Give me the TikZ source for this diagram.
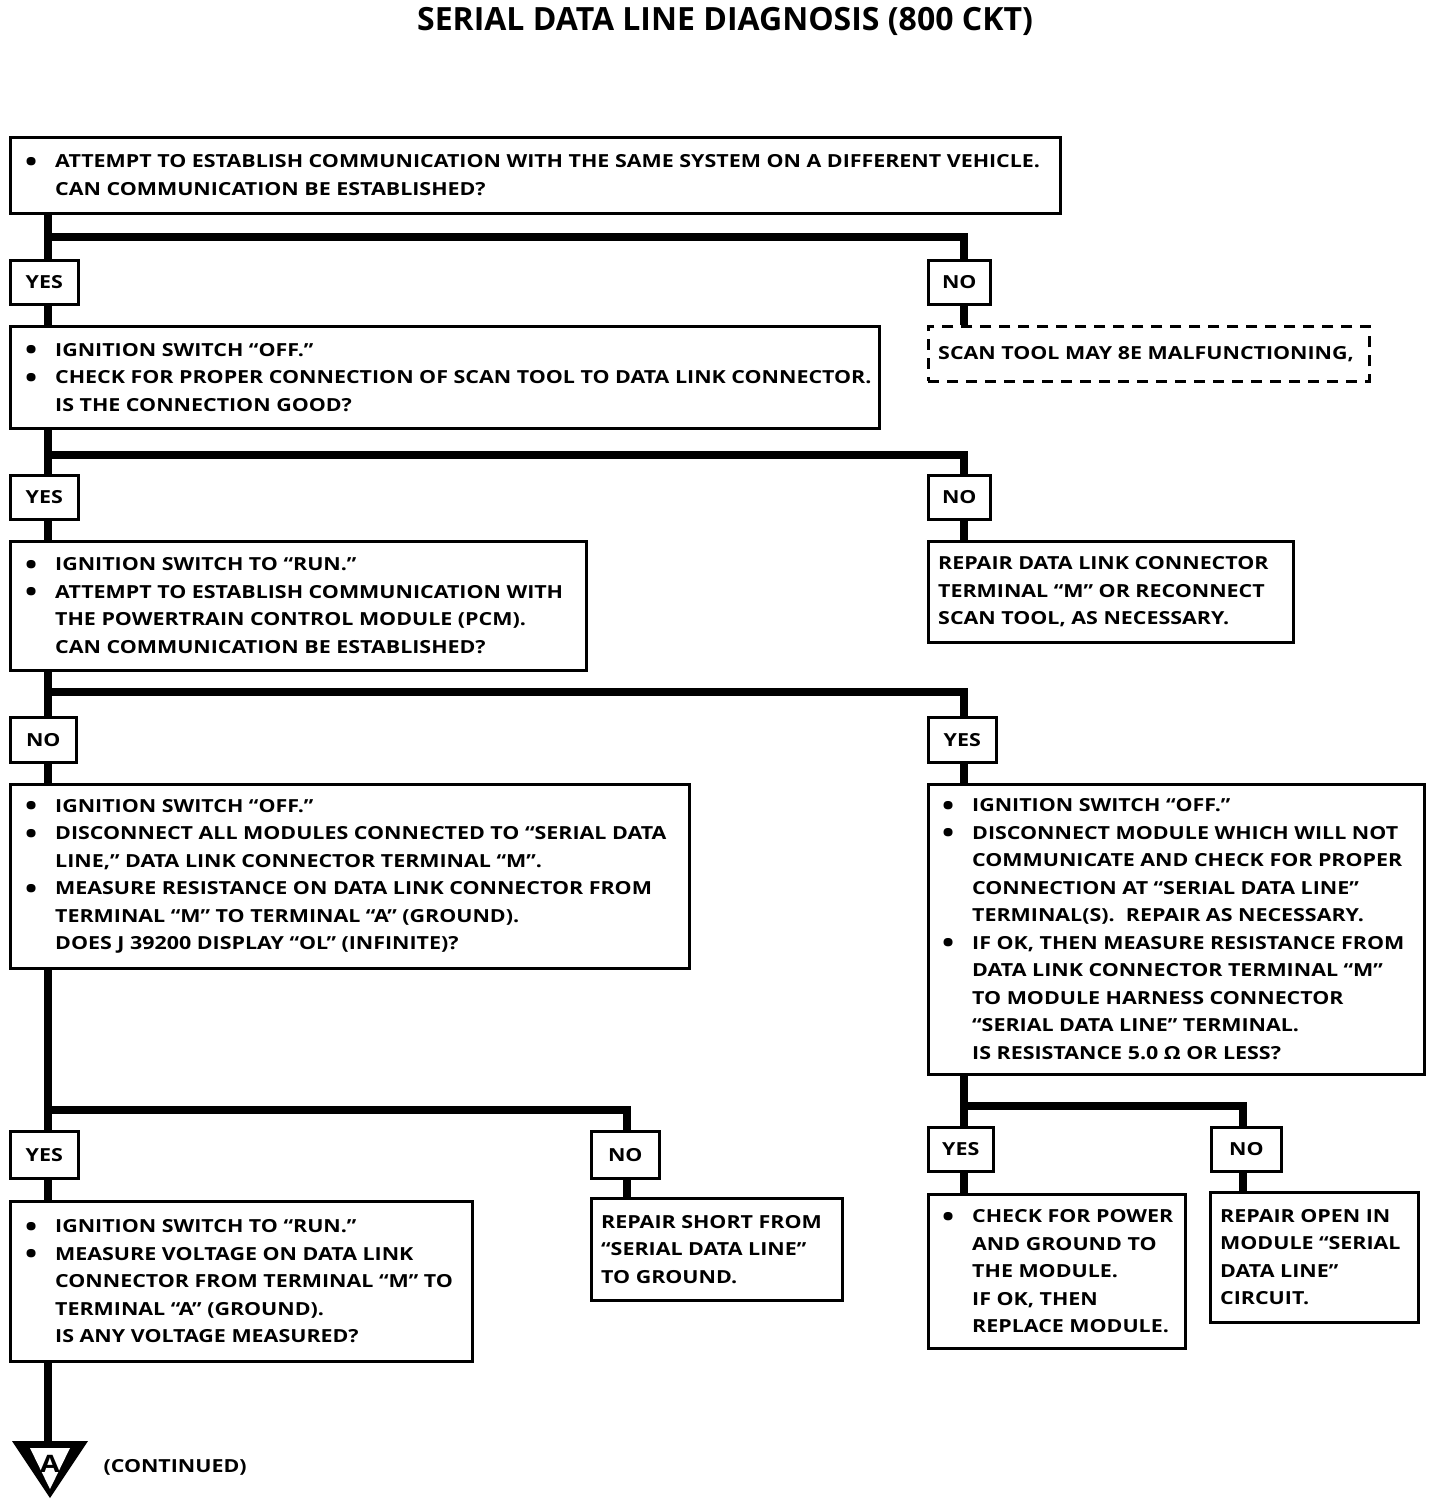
\documentclass[tikz,border=0pt]{standalone}
\usepackage{fontspec}
\setmainfont{Open Sans}
\newfontfamily\bodyfont{Open Sans}[FakeStretch=1.19]
\usetikzlibrary{positioning}
\newcommand\bul{\llap{\raisebox{-3.5pt}{\fontsize{27}{27}\selectfont•}\hspace{18pt}}}

\begin{document}
\begin{tikzpicture}[
  x=1pt, y=-1pt,
  font=\bodyfont\bfseries\fontsize{18}{27.5}\selectfont,
  box/.style={draw, line width=2.6pt, anchor=north west, inner sep=0pt},
  ans/.style={box, minimum height=44pt},
  dbox/.style={box, dash pattern=on 11pt off 8pt},
  txt/.style={align=left, inner sep=0pt, anchor=west},
  link/.style={draw, line width=8pt}
]
\useasboundingbox (0,0) rectangle (1440,1506);

% ---- title
\node[font=\bfseries\fontsize{32}{38}\selectfont] (title) at (725,21) {SERIAL DATA LINE DIAGNOSIS (800 CKT)};

% ---- trunk columns and junction rows
\coordinate (tL) at (48,0);
\coordinate (tR) at (964,0);
\coordinate (tM) at (627,0);
\coordinate (tS) at (1243,0);
\coordinate (j1) at (0,237);
\coordinate (j2) at (0,455);
\coordinate (j3) at (0,692);
\coordinate (j4) at (0,1110);
\coordinate (j5) at (0,1106);

% ---- step 1
\node[box, minimum width=1050pt, minimum height=76pt] (q1) at (9,136) {};
\node[txt, right=46pt of q1.west] (q1t) {\bul ATTEMPT TO ESTABLISH COMMUNICATION WITH THE SAME SYSTEM ON A DIFFERENT VEHICLE.\\CAN COMMUNICATION BE ESTABLISHED?};
\node[ans, minimum width=68pt] (a1y) at (9,259) {YES};
\node[ans, minimum width=62pt] (a1n) at (927,259) {NO};
\node[dbox, minimum width=441pt, minimum height=55pt] (r1) at (927,325) {};
\node[txt, right=11pt of r1.west] (r1t) {SCAN TOOL MAY 8E MALFUNCTIONING,};
\draw[link] (q1.south -| tL) -- (a1y.north -| tL);
\draw[link] (j1 -| tL) -| (a1n.north -| tR);
\draw[link] (a1n.south -| tR) -- (r1.north -| tR);

% ---- step 2
\node[box, minimum width=869pt, minimum height=102pt] (q2) at (9,325) {};
\node[txt, right=46pt of q2.west] (q2t) {\bul IGNITION SWITCH “OFF.”\\\bul CHECK FOR PROPER CONNECTION OF SCAN TOOL TO DATA LINK CONNECTOR.\\IS THE CONNECTION GOOD?};
\node[ans, minimum width=68pt] (a2y) at (9,474) {YES};
\node[ans, minimum width=62pt] (a2n) at (927,474) {NO};
\node[box, minimum width=365pt, minimum height=101pt] (r2) at (927,540) {};
\node[txt, right=11pt of r2.west] (r2t) {REPAIR DATA LINK CONNECTOR\\TERMINAL “M” OR RECONNECT\\SCAN TOOL, AS NECESSARY.};
\draw[link] (a1y.south -| tL) -- (q2.north -| tL);
\draw[link] (q2.south -| tL) -- (a2y.north -| tL);
\draw[link] (j2 -| tL) -| (a2n.north -| tR);
\draw[link] (a2n.south -| tR) -- (r2.north -| tR);

% ---- step 3
\node[box, minimum width=576pt, minimum height=129pt] (q3) at (9,540) {};
\node[txt, right=46pt of q3.west] (q3t) {\bul IGNITION SWITCH TO “RUN.”\\\bul ATTEMPT TO ESTABLISH COMMUNICATION WITH\\THE POWERTRAIN CONTROL MODULE (PCM).\\CAN COMMUNICATION BE ESTABLISHED?};
\node[ans, minimum width=66pt, minimum height=45pt] (a3n) at (9,716) {NO};
\node[ans, minimum width=68pt, minimum height=45pt] (a3y) at (927,716) {YES};
\draw[link] (a2y.south -| tL) -- (q3.north -| tL);
\draw[link] (q3.south -| tL) -- (a3n.north -| tL);
\draw[link] (j3 -| tL) -| (a3y.north -| tR);

% ---- step 4 (no communication)
\node[box, minimum width=679pt, minimum height=184pt] (q4) at (9,783) {};
\node[txt, right=46pt of q4.west] (q4t) {\bul IGNITION SWITCH “OFF.”\\\bul DISCONNECT ALL MODULES CONNECTED TO “SERIAL DATA\\LINE,” DATA LINK CONNECTOR TERMINAL “M”.\\\bul MEASURE RESISTANCE ON DATA LINK CONNECTOR FROM\\TERMINAL “M” TO TERMINAL “A” (GROUND).\\DOES J 39200 DISPLAY “OL” (INFINITE)?};
\node[ans, minimum width=68pt, minimum height=47pt] (a4y) at (9,1130) {YES};
\node[ans, minimum width=68pt, minimum height=47pt] (a4n) at (590,1130) {NO};
\node[box, minimum width=462pt, minimum height=160pt] (q6) at (9,1200) {};
\node[txt, right=46pt of q6.west] (q6t) {\bul IGNITION SWITCH TO “RUN.”\\\bul MEASURE VOLTAGE ON DATA LINK\\CONNECTOR FROM TERMINAL “M” TO\\TERMINAL “A” (GROUND).\\IS ANY VOLTAGE MEASURED?};
\node[box, minimum width=251pt, minimum height=102pt] (r3) at (590,1197) {};
\node[txt, right=11pt of r3.west] (r3t) {REPAIR SHORT FROM\\“SERIAL DATA LINE”\\TO GROUND.};
\draw[link] (a3n.south -| tL) -- (q4.north -| tL);
\draw[link] (q4.south -| tL) -- (a4y.north -| tL);
\draw[link] (j4 -| tL) -| (a4n.north -| tM);
\draw[link] (a4y.south -| tL) -- (q6.north -| tL);
\draw[link] (a4n.south -| tM) -- (r3.north -| tM);

% ---- step 5 (communication ok)
\node[box, minimum width=496pt, minimum height=290pt] (q5) at (927,783) {};
\node[txt, right=45pt of q5.west] (q5t) {\bul IGNITION SWITCH “OFF.”\\\bul DISCONNECT MODULE WHICH WILL NOT\\COMMUNICATE AND CHECK FOR PROPER\\CONNECTION AT “SERIAL DATA LINE”\\TERMINAL(S).\ \ REPAIR AS NECESSARY.\\\bul IF OK, THEN MEASURE RESISTANCE FROM\\DATA LINK CONNECTOR TERMINAL “M”\\TO MODULE HARNESS CONNECTOR\\“SERIAL DATA LINE” TERMINAL.\\IS RESISTANCE 5.0 Ω OR LESS?};
\node[ans, minimum width=65pt] (a5y) at (927,1126) {YES};
\node[ans, minimum width=70pt] (a5n) at (1210,1126) {NO};
\node[box, minimum width=257pt, minimum height=154pt] (r4) at (927,1193) {};
\node[txt, right=45pt of r4.west] (r4t) {\bul CHECK FOR POWER\\AND GROUND TO\\THE MODULE.\\IF OK, THEN\\REPLACE MODULE.};
\node[box, minimum width=208pt, minimum height=130pt] (r5) at (1209,1191) {};
\node[txt, right=11pt of r5.west] (r5t) {REPAIR OPEN IN\\MODULE “SERIAL\\DATA LINE”\\CIRCUIT.};
\draw[link] (a3y.south -| tR) -- (q5.north -| tR);
\draw[link] (q5.south -| tR) -- (a5y.north -| tR);
\draw[link] (j5 -| tR) -| (a5n.north -| tS);
\draw[link] (a5y.south -| tR) -- (r4.north -| tR);
\draw[link] (a5n.south -| tS) -- (r5.north -| tS);

% ---- continued marker
\coordinate (ctop) at (48,1441);
\fill (12,1441) -- (88,1441) -- (50,1498) -- cycle;
\fill[white] (30,1448) -- (70,1448) -- (50,1489) -- cycle;
\node[font=\bodyfont\bfseries\fontsize{24}{24}\selectfont] (ca) at (50,1464) {A};
\node[anchor=west] (cont) at (100,1467) {(CONTINUED)};
\draw[link] (q6.south -| tL) -- (ctop);
\end{tikzpicture}
\end{document}
